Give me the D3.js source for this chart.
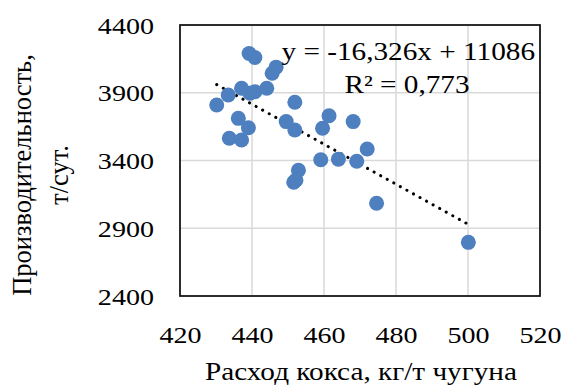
<!DOCTYPE html>
<html>
<head>
<meta charset="utf-8">
<script src="https://cdn.jsdelivr.net/npm/d3@7"></script>
<style>
  html, body { margin: 0; padding: 0; background: #fff; }
  svg text { font-family: "Liberation Serif", "Times New Roman", serif; fill: #000; }
</style>
</head>
<body>
<svg id="chart" width="566" height="385"></svg>
<script>
// Coke rate (kg per tonne of hot metal) vs. furnace output (t/day)
const cokeRate = [430.2, 433.4, 433.7, 436.2, 437.1, 437.1, 439.0, 439.2, 440.8, 439.4,
                  440.8, 444.1, 445.6, 446.7, 449.5, 451.9, 451.9, 451.6, 452.2, 452.9,
                  459.1, 459.6, 461.4, 464.0, 468.1, 469.1, 472.0, 474.6, 500.1];
const output   = [3810, 3883, 3564, 3711, 3933, 3551, 3642, 4190, 4160, 3896,
                  3908, 3933, 4044, 4089, 3687, 3830, 3625, 3240, 3255, 3328,
                  3406, 3638, 3730, 3410, 3687, 3394, 3485, 3084, 2796];

const xTicks = [420, 440, 460, 480, 500, 520];
const yTicks = [2400, 2900, 3400, 3900, 4400];

const equationText = "y = -16,326x + 11086";
const r2Text = "R² = 0,773";
const xTitle = "Расход кокса, кг/т чугуна";
const yTitleLines = ["Производительность,", "т/сут."];

// layout
const plot = { left: 180, right: 540, top: 25, bottom: 296 };
const fontSize = 24;
const stretch = 1.17;   // horizontal text width factor

const svg = d3.select("#chart");

const x = d3.scaleLinear().domain([420, 520]).range([plot.left, plot.right]);
const y = d3.scaleLinear().domain([2400, 4400]).range([plot.bottom, plot.top]);

// gridlines
const grid = svg.append("g");
grid.selectAll("line.v").data(xTicks.slice(1, -1)).join("line")
  .attr("x1", d => x(d)).attr("x2", d => x(d))
  .attr("y1", plot.top).attr("y2", plot.bottom)
  .attr("stroke", "#d9d9d9").attr("stroke-width", 1.5);
grid.selectAll("line.h").data(yTicks.slice(1, -1)).join("line")
  .attr("x1", plot.left).attr("x2", plot.right)
  .attr("y1", d => y(d)).attr("y2", d => y(d))
  .attr("stroke", "#d9d9d9").attr("stroke-width", 1.5);

// plot frame
svg.append("rect")
  .attr("x", plot.left).attr("y", plot.top)
  .attr("width", plot.right - plot.left).attr("height", plot.bottom - plot.top)
  .attr("fill", "none").attr("stroke", "#111").attr("stroke-width", 1.75);

// axes (labels only, the frame draws the lines)
const fmt = d3.format("d");
const xAxis = d3.axisBottom(x).tickValues(xTicks).tickFormat(fmt).tickSize(0).tickPadding(0);
const gx = svg.append("g").attr("transform", `translate(0,${plot.bottom})`).call(xAxis);
gx.select(".domain").remove();
gx.selectAll("text")
  .attr("y", 0).attr("dy", null)
  .attr("font-size", fontSize)
  .attr("text-anchor", "middle")
  .attr("transform", `translate(0,47) scale(${stretch},1)`);

const yAxis = d3.axisLeft(y).tickValues(yTicks).tickFormat(fmt).tickSize(0).tickPadding(0);
const gy = svg.append("g").attr("transform", `translate(${plot.left - 26},0)`).call(yAxis);
gy.select(".domain").remove();
gy.selectAll("text")
  .attr("x", 0).attr("dy", "0.34em")
  .attr("font-size", fontSize)
  .attr("text-anchor", "end")
  .attr("transform", `scale(${stretch},1)`);

// least-squares trendline over the data range
const n = cokeRate.length;
const mx = d3.mean(cokeRate), my = d3.mean(output);
let sxy = 0, sxx = 0;
for (let i = 0; i < n; i++) {
  sxy += (cokeRate[i] - mx) * (output[i] - my);
  sxx += (cokeRate[i] - mx) ** 2;
}
const slope = sxy / sxx, intercept = my - slope * mx;
const [xmin, xmax] = d3.extent(cokeRate);
svg.append("path")
  .datum([xmin, xmax])
  .attr("d", d3.line().x(d => x(d)).y(d => y(slope * d + intercept)))
  .attr("stroke", "#000").attr("stroke-width", 3)
  .attr("stroke-linecap", "round")
  .attr("stroke-dasharray", "0.1 7.4")
  .attr("fill", "none");

// points
svg.append("g").selectAll("circle")
  .data(d3.range(n)).join("circle")
  .attr("cx", i => x(cokeRate[i]))
  .attr("cy", i => y(output[i]))
  .attr("r", 7.5)
  .attr("fill", "#4e7fbf");

// trendline annotation
function stretchedText(tx, ty, str, anchor, size) {
  svg.append("text")
    .attr("transform", `translate(${tx},${ty}) scale(${stretch},1)`)
    .attr("font-size", size)
    .attr("text-anchor", anchor)
    .text(str);
}
stretchedText(535, 60, equationText, "end", 25);
stretchedText(407, 93, r2Text, "middle", 25);

// axis titles
stretchedText(361, 380, xTitle, "middle", 25);

// vertical title, one rotated line per entry
const yTitleCenters = [31, 68];
svg.append("g").selectAll("text")
  .data(yTitleLines).join("text")
  .attr("transform", (d, i) => `translate(${yTitleCenters[i]},175) rotate(-90)`)
  .attr("font-size", 26.5)
  .attr("text-anchor", "middle")
  .text(d => d);
</script>
</body>
</html>
